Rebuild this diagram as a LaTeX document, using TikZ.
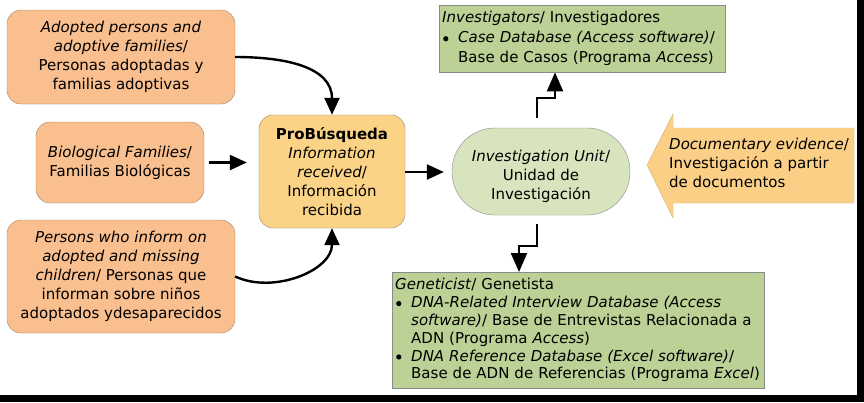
\documentclass[tikz,border=0pt]{standalone}
\usepackage{fontspec}
\setmainfont{DejaVu Sans}
\usetikzlibrary{arrows.meta}
\definecolor{peach}{HTML}{F9BF8F}
\definecolor{peachline}{HTML}{A08468}
\definecolor{gold}{HTML}{FBD386}
\definecolor{olive}{HTML}{BCD195}
\definecolor{paleolive}{HTML}{D8E4BE}
\definecolor{docfill}{HTML}{FBCF86}
\definecolor{grayline}{HTML}{8A8A8A}
\newcommand{\bul}{\makebox[16pt][l]{\hspace{1pt}\raisebox{1.5pt}{\tikz\fill (0,0) circle (2.6pt);}}}
\newcommand{\ind}{\hspace*{16pt}}
\begin{document}
\begin{tikzpicture}[x=1pt,y=-1pt,
  font=\fontsize{15}{19}\selectfont,
  srcbox/.style={draw=peachline, fill=peach, rounded corners=14pt, align=center, inner sep=2pt},
  arr/.style={line width=2.4pt, -{Triangle[length=17pt,width=15pt]}},
  elb/.style={line width=2.4pt, -{Triangle[length=19pt,width=16pt]}}]
\useasboundingbox (0,0) rectangle (864,402);
\fill[white] (0,0) rectangle (864,402);
\fill[black] (0,395) rectangle (864,402);
\fill[black] (857,0) rectangle (864,402);

\node[srcbox, minimum width=228pt, minimum height=94pt] (a1) at (121,57)
  {\textit{Adopted persons and}\\ \textit{adoptive families}/\\ Personas adoptadas y\\ familias adoptivas};
\node[srcbox, minimum width=168pt, minimum height=81pt] (a2) at (120,162.5)
  {\textit{Biological Families}/\\ Familias Biológicas};
\node[srcbox, minimum width=228pt, minimum height=113pt] (a3) at (121,276.5)
  {\textit{Persons who inform on}\\ \textit{adopted and missing}\\ \textit{children}/ Personas que\\ informan sobre niños\\ adoptados ydesaparecidos};
\node[draw=peachline, fill=gold, rounded corners=14pt, align=center, inner sep=2pt, minimum width=146pt, minimum height=113pt] (pb) at (332,171.5)
  {\textbf{ProBúsqueda}\\ \textit{Information}\\ \textit{received}/\\ Información\\ recibida};
\node[draw=grayline, fill=paleolive, rounded corners=43pt, align=center, inner sep=0pt, minimum width=178pt, minimum height=87pt,
  font=\fontsize{15}{19}\selectfont] (iu) at (541,171.5)
  {\rule{0pt}{21pt}\textit{Investigation Unit}/\\ Unidad de\\ Investigación};
\node[draw=grayline, fill=olive, align=left, text width=280pt, minimum height=67pt, inner xsep=3pt, inner ysep=2pt, anchor=north west,
  font=\fontsize{15}{20}\selectfont] (inv) at (439,5)
  {\textit{Investigators}/ Investigadores\\ \bul\textit{Case Database (Access software)}/\\ \ind Base de Casos (Programa \textit{Access})};
\node[draw=grayline, fill=olive, align=left, text width=366pt, minimum height=116pt, inner xsep=3pt, inner ysep=2pt, anchor=north west,
  font=\fontsize{15}{17.8}\selectfont] (gen) at (392,272)
  {\textit{Geneticist}/ Genetista\\
   \bul\textit{DNA-Related Interview Database (Access}\\
   \ind\textit{software)}/ Base de Entrevistas Relacionada a\\
   \ind ADN (Programa \textit{Access})\\
   \bul\textit{DNA Reference Database (Excel software)}/\\
   \ind Base de ADN de Referencias (Programa \textit{Excel})};
\fill[docfill, draw=docfill!85!black] (647,165) -- (673,114) -- (673,128) -- (854,128) -- (854,203) -- (673,203) -- (673,218) -- cycle;
\node[align=left, anchor=west, inner sep=0pt] (doc) at (669,163)
  {\textit{Documentary evidence}/\\ Investigación a partir\\ de documentos};

\draw[arr, shorten <=5pt, shorten >=12pt] (a2.east) -- (a2.east -| pb.west);
\draw[arr, shorten >=8pt] (pb.east |- 0,172) -- (iu.west |- 0,172);
\draw[arr] (a1.east) to[out=0, in=90, looseness=1.1] (pb.north);
\draw[arr] (a3.east) to[out=-25, in=-90, looseness=1.0] (pb.south);
\draw[elb, shorten <=10pt] ([xshift=-4pt]iu.north) -- ++(0,-30) -| ([xshift=14pt]iu.north |- inv.south);
\draw[elb, shorten <=9pt] ([xshift=-4pt]iu.south) -- ++(0,31) -| ([xshift=-22pt]iu.south |- gen.north);
\end{tikzpicture}
\end{document}
